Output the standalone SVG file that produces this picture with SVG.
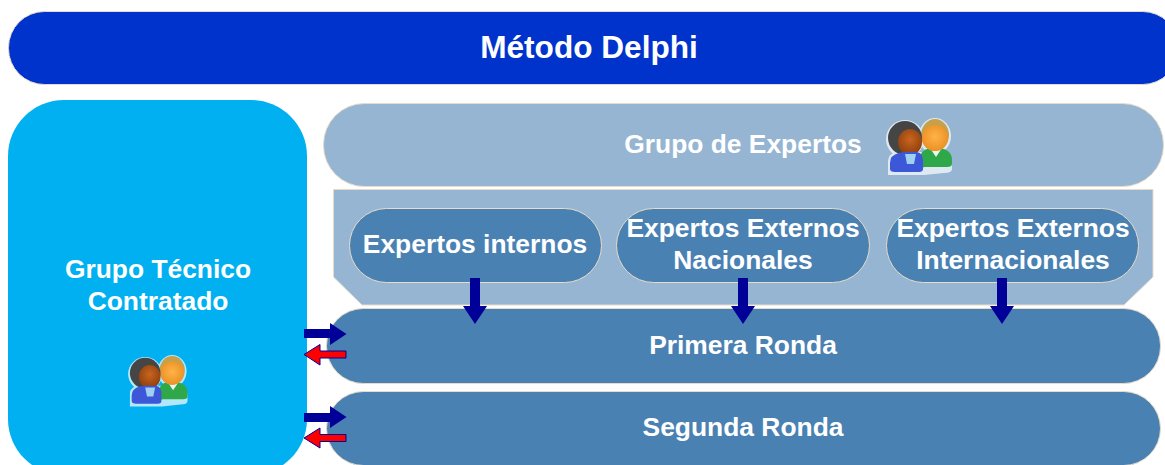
<svg xmlns="http://www.w3.org/2000/svg" width="1165" height="465" viewBox="0 0 1165 465">
<style>
text{font-family:"Liberation Sans",Arial,sans-serif;font-weight:bold;fill:#fff;text-anchor:middle}
.t{font-size:26.400px}
.l{stroke:#e8dcc8;stroke-width:1}
.dark{fill:#4a81b3}
.light{fill:#95b5d2}
.blue{fill:#000099}
.red{fill:#ff0000;stroke:#000099;stroke-width:1}
</style>
<defs>
<radialGradient id="h1" cx="50%" cy="40%" r="60%"><stop offset="0" stop-color="#c9651d"/><stop offset="1" stop-color="#8e3f10"/></radialGradient>
<radialGradient id="h2" cx="50%" cy="45%" r="60%"><stop offset="0" stop-color="#ffb347"/><stop offset="1" stop-color="#e98d22"/></radialGradient>
<g id="people">
<g fill="#fff" opacity=".7"><ellipse cx="48" cy="17" rx="16" ry="18"/><circle cx="18" cy="20" r="19"/><path d="M1 56V42q0-8 10-9h44q10 2 10 12v5q0 4-8 4l-20 2z"/></g>
<path d="M33 49V40q0-9 10-11h10q12 2 12 12v4q0 3-5 3H38z" fill="#2fa84a"/>
<path d="M43 29l6 9 6-9z" fill="#eef7ee"/>
<ellipse cx="48" cy="16" rx="14" ry="16" fill="#c7a04c"/>
<ellipse cx="48" cy="19" rx="13" ry="13" fill="url(#h2)"/>
<ellipse cx="18" cy="19" rx="17" ry="17" fill="#454545"/>
<ellipse cx="23" cy="23" rx="12" ry="13" fill="url(#h1)"/>
<path d="M3 50V44q0-8 9-10l5-1h13q6 1 6 9v8q0 3-4 3H8q-5 0-5-3z" fill="#3c57d8"/>
<path d="M18 35h11l-2 10h-7z" fill="#9fd0f0"/>
</g>
</defs>
<g id="titulo"><rect class="l" x="8.500" y="11.500" width="1170" height="73" rx="36" fill="#0033cc"/><text x="589" y="58" font-size="31.600">Método Delphi</text></g>
<g id="grupo-tecnico"><rect x="8" y="100" width="299" height="375" rx="56" fill="#00b0f0"/><text class="t" x="158" y="278">Grupo Técnico</text><text class="t" x="158" y="310">Contratado</text><use href="#people" transform="translate(129 356) scale(.9)"/></g>
<g id="grupo-expertos"><rect class="l light" x="323.500" y="103.500" width="840" height="83" rx="41"/><text class="t" x="743" y="153">Grupo de Expertos</text><use href="#people" transform="translate(887 119)"/></g>
<g id="panel"><polygon class="l light" points="333.500,189.500 1153,189.500 1153,277 1124,305 362,305 333.500,277"/></g>
<g id="expertos-internos"><rect class="l dark" x="349.500" y="208.500" width="252" height="74" rx="37"/><text class="t" x="475" y="253">Expertos internos</text></g>
<g id="expertos-nacionales"><rect class="l dark" x="616.500" y="208.500" width="253" height="74" rx="37"/><text class="t" x="743" y="237">Expertos Externos</text><text class="t" x="743" y="269">Nacionales</text></g>
<g id="expertos-internacionales"><rect class="l dark" x="886.500" y="208.500" width="252" height="74" rx="37"/><text class="t" x="1013" y="237">Expertos Externos</text><text class="t" x="1013" y="269">Internacionales</text></g>
<g id="primera-ronda"><rect class="l dark" x="326.500" y="308.500" width="834" height="75" rx="37"/><text class="t" x="743" y="354">Primera Ronda</text></g>
<g id="segunda-ronda"><rect class="l dark" x="326.500" y="391.500" width="834" height="74" rx="37"/><text class="t" x="743" y="436">Segunda Ronda</text></g>
<g id="connectors">
<polygon class="blue" points="470,278 480,278 480,306 487,306 475,324 463,306 470,306"/>
<polygon class="blue" points="738,278 748,278 748,306 755,306 743,324 731,306 738,306"/>
<polygon class="blue" points="997,278 1007,278 1007,306 1014,306 1002,324 990,306 997,306"/>
<polygon class="blue" points="304,329 330,329 330,323 346.500,334 330,345 330,338 304,338"/>
<polygon class="blue" points="304,413 330,413 330,406 346.500,417 330,428 330,422 304,422"/>
<polygon class="red" points="346,351 320,351 320,344.500 304,354.500 320,365 320,358 346,358"/>
<polygon class="red" points="346,434.500 320,434.500 320,428 304,438 320,448 320,441.500 346,441.500"/>
</g>
</svg>
